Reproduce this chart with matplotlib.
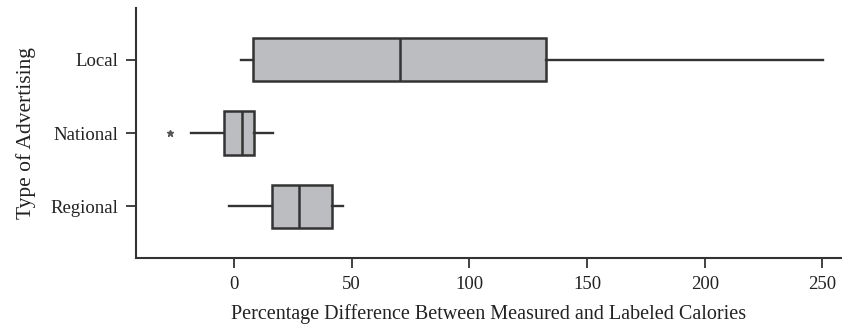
import matplotlib.pyplot as plt

categories = ['Regional', 'National', 'Local']
whislo = [-1.9, -18.1, 3.1]
q1 = [16.3, -4.4, 8.3]
med = [27.5, 3.3, 70.7]
q3 = [41.8, 8.5, 132.6]
whishi = [46.2, 16.4, 250.3]
fliers = [[], [-27.2], []]

stats = []
for i in range(len(categories)):
    stats.append({'label': categories[i], 'whislo': whislo[i], 'q1': q1[i],
                  'med': med[i], 'q3': q3[i], 'whishi': whishi[i],
                  'fliers': fliers[i]})

plt.rcParams['font.family'] = ['Liberation Serif', 'DejaVu Serif']

fig = plt.figure(figsize=(8.42, 3.27), dpi=100)
ax = fig.add_axes([0.1615, 0.211, 0.8385, 0.7645])

edge = '#333333'
ax.bxp(stats, positions=range(len(categories)), vert=False, widths=0.59,
       showcaps=False, patch_artist=True,
       boxprops=dict(facecolor='#bcbdc0', edgecolor=edge, linewidth=1.8),
       medianprops=dict(color=edge, linewidth=1.8),
       whiskerprops=dict(color=edge, linewidth=1.7),
       flierprops=dict(marker='*', markersize=4.5, markerfacecolor='#555555',
                       markeredgecolor='#555555'))

ax.set_xlim(-41.6, 258.3)
ax.set_ylim(-0.71, 2.71)
ax.set_xticks([0, 50, 100, 150, 200, 250])
ax.set_yticks(range(len(categories)))
ax.set_yticklabels(categories)

for s in ['top', 'right']:
    ax.spines[s].set_visible(False)
for s in ['left', 'bottom']:
    ax.spines[s].set_color(edge)
    ax.spines[s].set_linewidth(1.5)

ax.tick_params(axis='both', length=7, width=1.3, color=edge, labelsize=13.5,
               labelcolor='#222222', pad=6)
ax.set_xlabel('Percentage Difference Between Measured and Labeled Calories',
              fontsize=14.5, color='#222222', labelpad=8)
ax.set_ylabel('Type of Advertising', fontsize=15.5, color='#222222', labelpad=10)

fig.savefig('out.png', dpi=100)
